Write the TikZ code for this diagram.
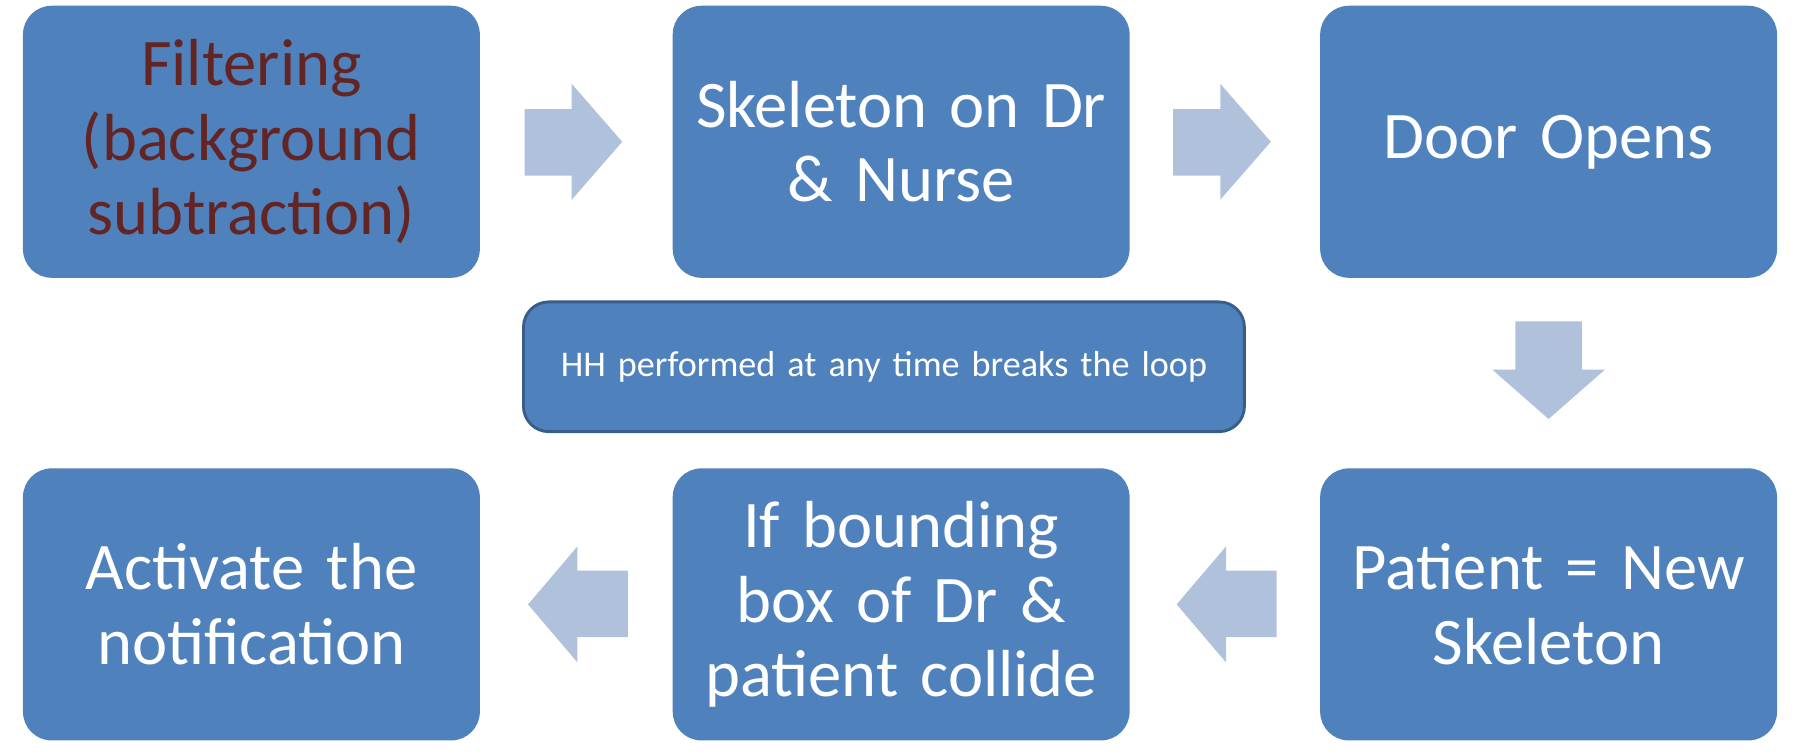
\documentclass[tikz,border=0pt]{standalone}
\usepackage{fontspec}
\setmainfont[WordSpace=0.75]{Carlito}
\definecolor{boxblue}{HTML}{4F81BD}
\definecolor{boxedge}{HTML}{385D8A}
\definecolor{arrowblue}{HTML}{B0C1DC}
\definecolor{darkred}{HTML}{632523}
\begin{document}
\begin{tikzpicture}[x=1pt,y=-1pt,
  bigbox/.style={rectangle, rounded corners=25pt, fill=boxblue, draw=none,
    minimum width=398pt, minimum height=237pt, inner sep=0pt, text width=390pt,
    align=center, text=white, font=\fontsize{58}{65}\selectfont},
  notebox/.style={rectangle, rounded corners=22pt, fill=boxblue, draw=boxedge,
    line width=2.5pt, minimum width=628pt, minimum height=113pt, inner sep=0pt,
    text width=600pt, align=center, text=white, font=\fontsize{31.5}{37}\selectfont},
  blockarrow/.style={fill=arrowblue, draw=none}]
\useasboundingbox (0,0) rectangle (1568,658);
\fill[white] (0,0) rectangle (1568,658);
% boxes
\node[bigbox, text=darkred] (b1) at (219,123.5) {Filtering\\(background\\subtraction)};
\node[bigbox] (b2) at (785,123.5) {Skeleton on Dr\\\& Nurse};
\node[bigbox] (b3) at (1349,123.5) {Door Opens};
\node[bigbox] (b4) at (1349,526.5) {Patient = New\\Skeleton};
\node[bigbox] (b5) at (785,526.5) {If bounding\\box of Dr \&\\patient collide};
\node[bigbox] (b6) at (219,526.5) {Activate the\\notification};
\node[notebox] (note) at (770,319.5) {HH performed at any time breaks the loop};
% block arrows
\fill[blockarrow] (457,95) -- (498,95) -- (498,73) -- (542,123.5) -- (498,174) -- (498,153) -- (457,153) -- cycle;
\fill[blockarrow] (1022,95) -- (1063,95) -- (1063,73) -- (1107,123.5) -- (1063,174) -- (1063,153) -- (1022,153) -- cycle;
\fill[blockarrow] (1320,280) -- (1378,280) -- (1378,322) -- (1398,322) -- (1349,365) -- (1300,322) -- (1320,322) -- cycle;
\fill[blockarrow] (1112,497) -- (1068,497) -- (1068,476) -- (1025,526.5) -- (1068,577) -- (1068,555) -- (1112,555) -- cycle;
\fill[blockarrow] (547,497) -- (503,497) -- (503,476) -- (460,526.5) -- (503,577) -- (503,555) -- (547,555) -- cycle;
\end{tikzpicture}
\end{document}
